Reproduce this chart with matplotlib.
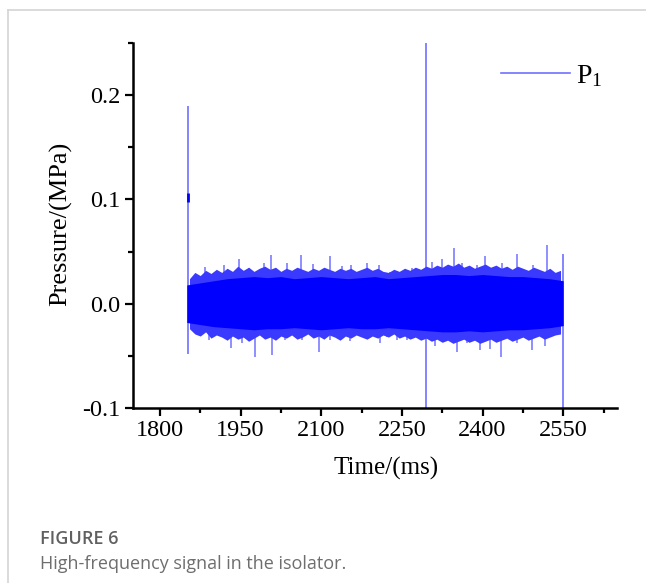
import matplotlib
matplotlib.use('Agg')
import matplotlib.pyplot as plt
from matplotlib.ticker import MultipleLocator
from matplotlib.lines import Line2D

plt.rcParams['font.family'] = ['Liberation Serif', 'DejaVu Serif']
plt.rcParams['mathtext.fontset'] = 'custom'
plt.rcParams['mathtext.rm'] = 'Liberation Serif'
plt.rcParams['axes.unicode_minus'] = False

# solid core of the noise band, read every 25 ms
env_t = [1850, 1875, 1900, 1925, 1950, 1975, 2000, 2025, 2050, 2075, 2100, 2125, 2150, 2175, 2200,
         2225, 2250, 2275, 2300, 2325, 2350, 2375, 2400, 2425, 2450, 2475, 2500, 2525, 2550]
env_hi = [0.018, 0.020, 0.022, 0.024, 0.025, 0.026, 0.025, 0.026, 0.024, 0.025, 0.026, 0.025, 0.024, 0.025, 0.026,
          0.024, 0.025, 0.026, 0.027, 0.028, 0.028, 0.027, 0.028, 0.027, 0.026, 0.026, 0.025, 0.024, 0.022]
env_lo = [-0.018, -0.020, -0.022, -0.023, -0.024, -0.025, -0.024, -0.024, -0.023, -0.024, -0.025, -0.024, -0.023, -0.024, -0.024,
          -0.023, -0.024, -0.025, -0.026, -0.027, -0.027, -0.026, -0.027, -0.026, -0.025, -0.025, -0.024, -0.023, -0.021]

# ragged outer fringe, read every 10 ms
fringe_t = list(range(1855, 2546, 10))
fringe_hi = [0.024, 0.030, 0.027, 0.032, 0.029, 0.033, 0.030, 0.034, 0.031, 0.036,
             0.032, 0.035, 0.031, 0.034, 0.036, 0.033, 0.035, 0.031, 0.034, 0.032,
             0.035, 0.033, 0.031, 0.034, 0.032, 0.035, 0.033, 0.031, 0.034, 0.032,
             0.034, 0.031, 0.033, 0.035, 0.032, 0.034, 0.031, 0.030, 0.033, 0.031,
             0.034, 0.032, 0.035, 0.033, 0.036, 0.034, 0.037, 0.035, 0.038, 0.036,
             0.039, 0.035, 0.037, 0.034, 0.036, 0.038, 0.035, 0.037, 0.034, 0.036,
             0.033, 0.036, 0.034, 0.032, 0.035, 0.033, 0.031, 0.034, 0.030, 0.032]
fringe_lo = [-0.024, -0.029, -0.031, -0.027, -0.033, -0.030, -0.032, -0.035, -0.031, -0.034,
             -0.032, -0.036, -0.033, -0.030, -0.034, -0.032, -0.035, -0.031, -0.033, -0.030,
             -0.034, -0.032, -0.029, -0.033, -0.031, -0.034, -0.030, -0.032, -0.035, -0.031,
             -0.033, -0.030, -0.032, -0.034, -0.031, -0.033, -0.030, -0.032, -0.029, -0.033,
             -0.031, -0.034, -0.032, -0.035, -0.033, -0.036, -0.034, -0.037, -0.035, -0.038,
             -0.036, -0.034, -0.037, -0.035, -0.038, -0.036, -0.034, -0.037, -0.035, -0.033,
             -0.036, -0.034, -0.032, -0.035, -0.033, -0.031, -0.034, -0.032, -0.030, -0.029]

# individual peaks sticking out of the band
peak_t = [1883, 1920, 1948, 1966, 1994, 2007, 2037, 2063, 2084, 2116, 2138, 2156, 2186, 2207,
          2227, 2268, 2306, 2324, 2347, 2361, 2389, 2404, 2436, 2464, 2494, 2520, 2544]
peak_p = [0.035, 0.037, 0.043, 0.034, 0.039, 0.047, 0.039, 0.047, 0.038, 0.046, 0.036, 0.037, 0.039, 0.037,
          0.030, 0.034, 0.040, 0.043, 0.053, 0.039, 0.037, 0.046, 0.039, 0.048, 0.037, 0.056, 0.030]
trough_t = [1879, 1892, 1933, 1952, 1976, 2009, 2032, 2065, 2095, 2116, 2153, 2181, 2209, 2222,
            2240, 2259, 2311, 2335, 2352, 2371, 2395, 2414, 2434, 2464, 2492, 2516]
trough_p = [-0.025, -0.035, -0.042, -0.038, -0.051, -0.049, -0.035, -0.035, -0.046, -0.035, -0.036, -0.032, -0.038, -0.032,
            -0.035, -0.035, -0.041, -0.035, -0.046, -0.038, -0.044, -0.043, -0.051, -0.038, -0.044, -0.041]

# large single spikes: time, min, max
spike_t = [1853, 2294, 2550]
spike_min = [-0.048, -0.11, -0.11]
spike_max = [0.19, 0.26, 0.048]

blue = '#0000ff'
mid = '#3a3aff'
light = '#7070ff'

fig = plt.figure(figsize=(6.46, 5.83), dpi=100)
ax = fig.add_axes([133 / 646, 1 - 408 / 583, 484 / 646, 365 / 583])

ax.vlines(spike_t, spike_min, spike_max, color=light, lw=1.2, zorder=2)
ax.vlines(1853, 0.098, 0.106, color=blue, lw=2, zorder=2)
ax.vlines(peak_t, 0, peak_p, color=light, lw=1.1, zorder=2)
ax.vlines(trough_t, 0, trough_p, color=light, lw=1.1, zorder=2)
ax.fill_between(fringe_t, fringe_lo, fringe_hi, color=mid, lw=0, zorder=2.5)
ax.fill_between(env_t, env_lo, env_hi, color=blue, lw=0, zorder=3)

ax.set_xlim(1750, 2650)
ax.set_ylim(-0.1, 0.25)
ax.xaxis.set_major_locator(MultipleLocator(150))
ax.xaxis.set_minor_locator(MultipleLocator(75))
ax.yaxis.set_major_locator(MultipleLocator(0.1))
ax.yaxis.set_minor_locator(MultipleLocator(0.05))
ax.yaxis.set_major_formatter(plt.FuncFormatter(lambda v, p: '%.1f' % v if abs(v) > 1e-9 else '0.0'))

for s in ['top', 'right']:
    ax.spines[s].set_visible(False)
for s in ['left', 'bottom']:
    ax.spines[s].set_linewidth(1.8)
ax.tick_params(which='major', direction='out', length=6, width=1.6, labelsize=17.5, pad=3)
ax.tick_params(which='minor', direction='out', length=3.5, width=1.6)

ax.set_xlabel('Time/(ms)', fontsize=18)
ax.xaxis.set_label_coords((386 - 133) / 484, (408 - 457) / 365)
ax.set_ylabel('Pressure/(MPa)', fontsize=19)
ax.yaxis.set_label_coords((72 - 133) / 484, (408 - 224) / 365)

handle = Line2D([], [], color=light, lw=1.2)
ax.legend([handle], [r'$\mathrm{P_1}$'], loc='upper right', bbox_to_anchor=(0.992, 0.975),
          frameon=False, fontsize=20, handlelength=2.45, handletextpad=0.22, borderaxespad=0)

# card border
fig.add_artist(Line2D([8 / 646, 1], [1 - 10 / 583, 1 - 10 / 583], color='#d4d4d4', lw=1.2))
fig.add_artist(Line2D([8 / 646, 8 / 646], [0, 1 - 10 / 583], color='#d4d4d4', lw=1.2))

fig.text(40 / 646, 1 - 539 / 583, 'FIGURE 6', fontsize=13, color='#606060', family='Open Sans',
         weight='semibold', va='center')
fig.text(40 / 646, 1 - 564 / 583, 'High-frequency signal in the isolator.', fontsize=13, color='#6e6e6e',
         family='Open Sans', va='center')

fig.savefig('out.png', dpi=100)
